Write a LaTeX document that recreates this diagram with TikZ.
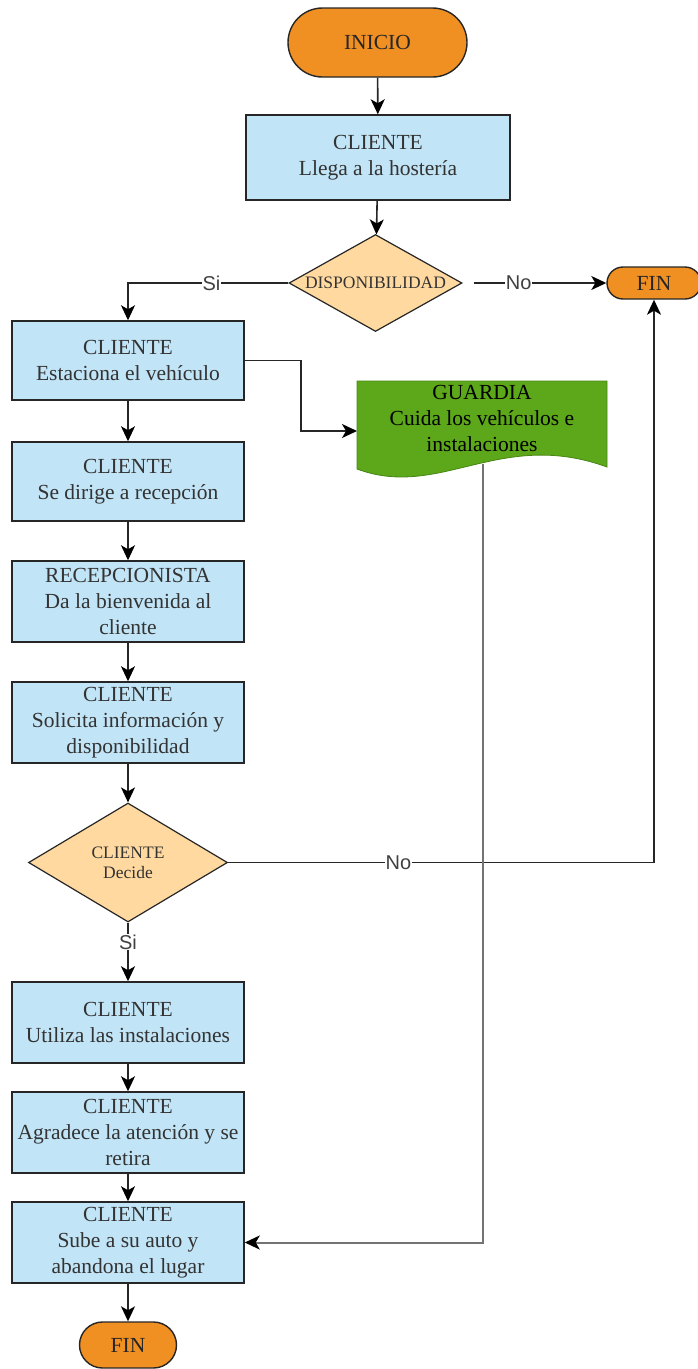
\documentclass[tikz,border=0pt]{standalone}
\usepackage{fontspec}
\setmainfont{Liberation Serif}
\setsansfont{Liberation Sans}
\usetikzlibrary{shapes.geometric,shapes.misc,arrows.meta}

\definecolor{termorange}{RGB}{240,143,34}
\definecolor{procblue}{RGB}{193,228,246}
\definecolor{decpeach}{RGB}{255,217,160}
\definecolor{guardgreen}{RGB}{92,167,26}
\definecolor{guardedge}{RGB}{72,134,20}

\newcommand\procfont{\fontsize{21.5}{26}\selectfont}
\newcommand\decfont{\fontsize{17.5}{20}\selectfont}
\newcommand\lblfont{\sffamily\fontsize{20}{22}\selectfont}

\begin{document}
\begin{tikzpicture}[x=1pt,y=-1pt,
    proc/.style={rectangle,draw=black!85,line width=1.5pt,fill=procblue,
      text=black!80,font=\procfont,align=center,inner sep=0pt,
      minimum width=232pt,minimum height=81pt},
    term/.style={rounded rectangle,draw=black!85,line width=1.4pt,
      fill=termorange,text=black!85,font=\procfont,inner sep=0pt},
    decision/.style={diamond,draw=black!85,line width=1.2pt,fill=decpeach,
      inner sep=0pt},
    flow/.style={draw=black!85,line width=1.6pt,
      -{Stealth[length=15pt,width=14pt,inset=4pt,color=black]}},
    lbl/.style={fill=white,text=black!75,font=\lblfont,inner sep=1pt}]
  \useasboundingbox (0,0) rectangle (697,1369);

  % start, arrival and the first check
  \node[term,minimum width=179pt,minimum height=69pt] (inicio) at (377.5,42.5) {INICIO};
  \node[proc,minimum width=264pt,minimum height=85pt] (llega) at (378,157.5)
    {CLIENTE\\Llega a la hostería};
  \node[decision,minimum width=173pt,minimum height=97pt,
    label={[font=\decfont,text=black!80]center:DISPONIBILIDAD}] (disp) at (375.5,283) {};
  \node[term,minimum width=94pt,minimum height=32pt] (fintop) at (654,283) {FIN};

  % left column
  \node[proc,minimum height=79pt] (estac) at (128,360.5) {CLIENTE\\Estaciona el vehículo};
  \node[proc,minimum height=79pt] (dirige) at (128,481.5) {CLIENTE\\Se dirige a recepción};
  \node[proc] (recep) at (128,601.5) {RECEPCIONISTA\\Da la bienvenida al\\cliente};
  \node[proc] (solic) at (128,722.5) {CLIENTE\\Solicita información y\\disponibilidad};
  \node[decision,minimum width=199pt,minimum height=119pt,
    label={[font=\decfont,text=black!80,align=center]center:CLIENTE\\Decide}] (decide) at (128,862.5) {};
  \node[proc] (util) at (128,1022.5) {CLIENTE\\Utiliza las instalaciones};
  \node[proc] (agrad) at (128,1132.5) {CLIENTE\\Agradece la atención y se\\retira};
  \node[proc] (sube) at (128,1242.5) {CLIENTE\\Sube a su auto y\\abandona el lugar};
  \node[term,minimum width=97pt,minimum height=46pt] (finbot) at (128,1345) {FIN};

  % guard: document shape,
  % wavy lower edge.
  \filldraw[fill=guardgreen,draw=guardedge,line width=0.8pt]
    (357,381) -- (607,381) -- (607,467)
    .. controls (500,428) and (440,500) .. (357,469) -- cycle;
  \node[font=\procfont,align=center,text=black,inner sep=0pt] (guardia) at (482,418)
    {GUARDIA\\Cuida los vehículos e\\instalaciones};
  \coordinate (gin) at (357,431);
  \coordinate (gout) at (483,464);

  % connectors
  \draw[flow] (inicio) -- (llega);
  \draw[flow] (llega) -- (disp);
  \draw[flow] (disp.west) -| node[lbl,pos=0.24] {Si} (estac.north);
  \draw[flow,shorten <=11pt] (disp.east) -- node[lbl,pos=0.39] {No} (fintop.west);
  \draw[flow] (estac.east) -- ++(56,0) |- (gin);
  \draw[flow] (estac) -- (dirige);
  \draw[flow] (dirige) -- (recep);
  \draw[flow] (recep) -- (solic);
  \draw[flow] (solic) -- (decide);
  \draw[flow] (decide.east) -| node[lbl,pos=0.2] {No} (fintop.south);
  \draw[flow] (decide.south) -- node[lbl,pos=0.33] {Si} (util.north);
  \draw[flow] (util) -- (agrad);
  \draw[flow] (agrad) -- (sube);
  \draw[flow] (sube) -- (finbot);
  \draw[flow,draw=black!55,line width=2pt] (gout) |- (sube.east);
\end{tikzpicture}
\end{document}
